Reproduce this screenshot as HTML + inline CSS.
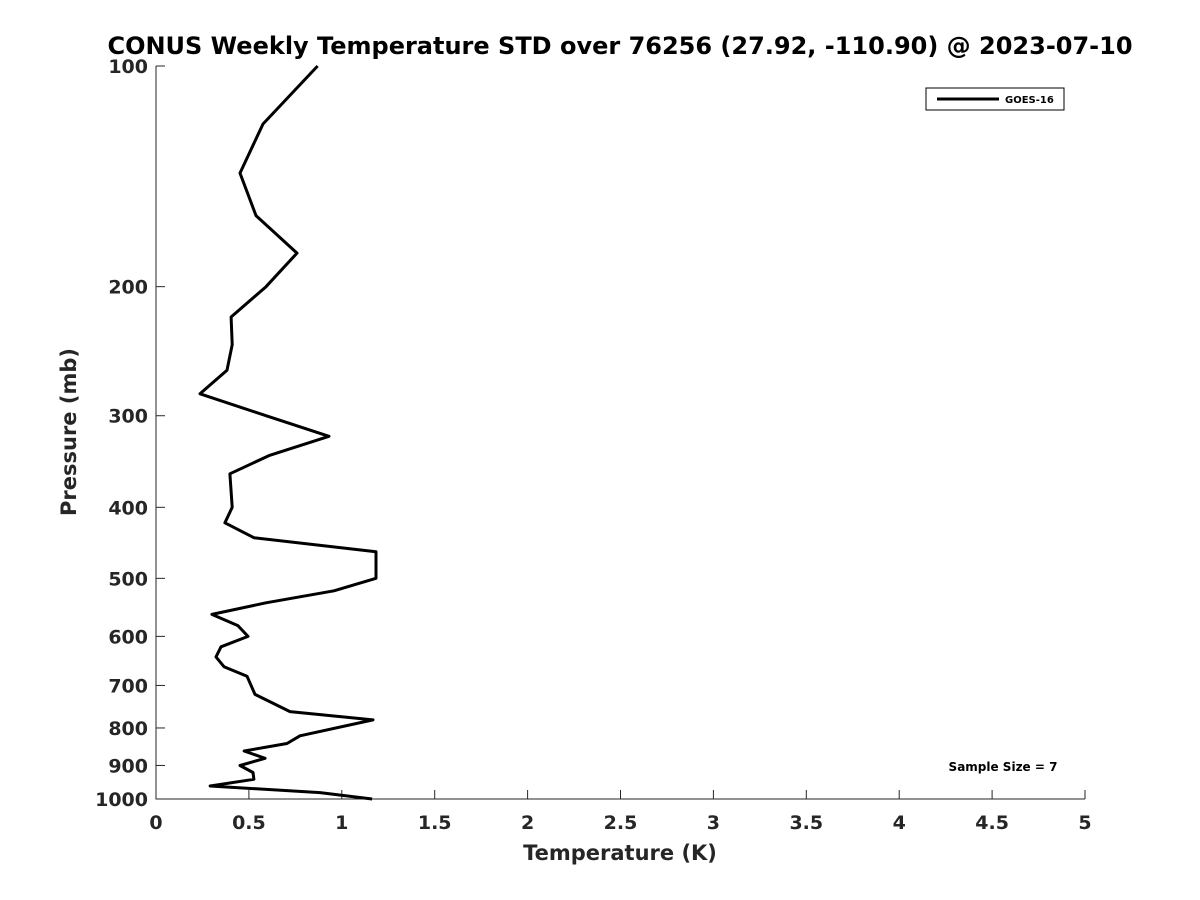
<!DOCTYPE html>
<html><head><meta charset="utf-8"><style>
body{margin:0;background:#fff}
svg{display:block;font-family:"DejaVu Sans","Liberation Sans",sans-serif;font-weight:bold}
</style></head><body>
<svg id="chart" width="1200" height="900">
<text x="620" y="54" text-anchor="middle" font-size="24" fill="#000">CONUS Weekly Temperature STD over 76256 (27.92, -110.90) @ 2023-07-10</text>
<g id="axes"></g>
<text x="620" y="860" text-anchor="middle" font-size="21" fill="#262626">Temperature (K)</text>
<text transform="translate(76,432) rotate(-90)" text-anchor="middle" font-size="21" fill="#262626">Pressure (mb)</text>
<g>
<rect x="926" y="88" width="138" height="22" fill="#fff" stroke="#000" stroke-width="1"/>
<line x1="937" y1="99" x2="999" y2="99" stroke="#000" stroke-width="3"/>
<text x="1005" y="103" font-size="10" fill="#000">GOES-16</text>
</g>
<text x="1003" y="771" text-anchor="middle" font-size="12" fill="#000">Sample Size = 7</text>
</svg>
<script>
const pressures=[100,120,140,160,180,200,220,240,260,280,300,320,340,360,400,420,440,460,500,520,540,560,580,600,620,640,660,680,720,760,780,820,840,860,880,900,920,940,960,980,1000];
const stdValues=[0.87,0.576,0.452,0.538,0.759,0.592,0.404,0.41,0.382,0.237,0.592,0.931,0.608,0.398,0.41,0.371,0.527,1.184,1.184,0.958,0.592,0.301,0.441,0.495,0.35,0.323,0.366,0.49,0.533,0.721,1.168,0.775,0.705,0.474,0.587,0.452,0.522,0.527,0.291,0.883,1.163];
const xTicks=[0,0.5,1,1.5,2,2.5,3,3.5,4,4.5,5];
const xTickLabels=["0","0.5","1","1.5","2","2.5","3","3.5","4","4.5","5"];
const yTicks=[100,200,300,400,500,600,700,800,900,1000];
const yTickLabels=["100","200","300","400","500","600","700","800","900","1000"];
const NS="http://www.w3.org/2000/svg";
const L=156,R=1085,T=66,B=799;
function xs(v){return L+(v-0)/(5-0)*(R-L);}
function ys(p){return T+(Math.log10(p)-2)*(B-T);}
const g=document.getElementById('axes');
function mk(tag,attrs){const e=document.createElementNS(NS,tag);for(const k in attrs)e.setAttribute(k,attrs[k]);return e;}
let ax=mk('path',{d:`M${L},${T}V${B}H${R}`,fill:'none',stroke:'#262626','stroke-width':1});


g.appendChild(ax);
xTicks.forEach((v,i)=>{
 const t=mk('line',{x1:xs(v),x2:xs(v),y1:B,y2:B-9,stroke:'#262626'});
 
 
 g.appendChild(t);
 const tx=mk('text',{x:xs(v),y:B+30,'text-anchor':'middle','font-size':19,fill:'#262626'});
 tx.textContent=xTickLabels[i];
 
 
 g.appendChild(tx);
});
yTicks.forEach((p,i)=>{
 const t=mk('line',{x1:L,x2:L+9,y1:ys(p),y2:ys(p),stroke:'#262626'});
 
 
 g.appendChild(t);
 const tx=mk('text',{x:L-8,y:ys(p)+7,'text-anchor':'end','font-size':19,fill:'#262626'});
 tx.textContent=yTickLabels[i];
 
 
 g.appendChild(tx);
});
const d=pressures.map((p,i)=>(i?'L':'M')+xs(stdValues[i]).toFixed(1)+','+ys(p).toFixed(1)).join('');
const line=mk('path',{d:d,fill:'none',stroke:'#000','stroke-width':3,'stroke-linejoin':'round'});


g.appendChild(line);
</script>
</body></html>
